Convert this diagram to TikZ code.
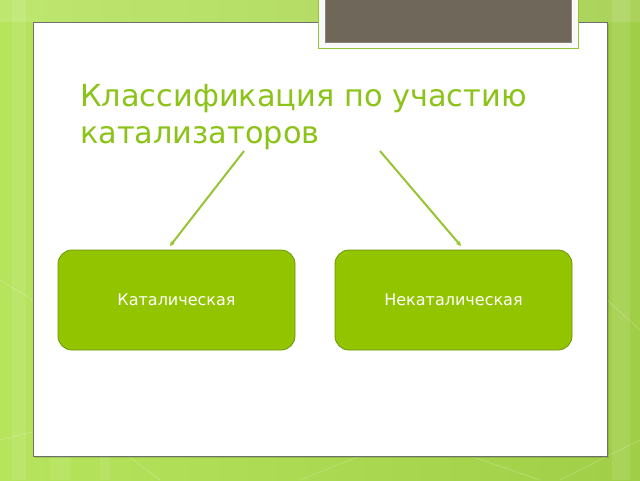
\documentclass[tikz,border=0pt]{standalone}
\usepackage{fontspec}
\setmainfont{DejaVu Sans}
\usetikzlibrary{arrows.meta}
\definecolor{bgL}{RGB}{182,228,92}
\definecolor{bgR}{RGB}{160,206,70}
\definecolor{titlegreen}{RGB}{140,195,25}
\definecolor{boxfill}{RGB}{147,196,0}
\definecolor{boxline}{RGB}{106,150,10}
\definecolor{arrowgreen}{RGB}{150,196,50}
\definecolor{darkbox}{RGB}{111,103,89}
\definecolor{panelline}{RGB}{110,110,110}
\tikzset{
  catbox/.style={draw=boxline, line width=0.8pt, fill=boxfill, rounded corners=14pt,
    minimum width=237pt, minimum height=100pt, inner sep=0pt,
    text=white, font=\fontsize{16}{19}\selectfont},
  arr/.style={draw=arrowgreen, line width=2pt, -{Stealth[length=5pt,width=5pt]}},
  faint/.style={draw=white, opacity=0.18, line width=1pt}
}
\begin{document}
\begin{tikzpicture}[x=1pt,y=-1pt]
\useasboundingbox (0,0) rectangle (640,480);
% background
\shade[left color=bgL, right color=bgR] (0,0) rectangle (640,480);
\fill[white, opacity=0.12] (0,0) rectangle (640,22);
\fill[white, opacity=0.10] (12,0) rectangle (26,480);
\fill[white, opacity=0.10] (612,0) rectangle (630,480);
\fill[white, opacity=0.08] (50,456) rectangle (70,480);
\fill[white, opacity=0.08] (100,456) rectangle (110,480);
\draw[faint] (0,440) -- (80,420) -- (160,480);
\draw[faint] (300,480) -- (360,456);
\draw[faint] (470,456) -- (540,480);
\draw[faint] (560,480) -- (640,440);
\draw[faint] (0,280) -- (33,300);
\draw[faint] (607,300) -- (640,330);
% panel shadow and panel
\fill[black, opacity=0.12] (34.5,23.5) rectangle (608.5,457.5);
\filldraw[fill=white, draw=panelline, line width=0.8pt] (33,22) rectangle (607,456);
% top dark box
\filldraw[fill=white!95!gray, draw=arrowgreen, line width=0.8pt] (318,-2) rectangle (578,48);
\filldraw[fill=darkbox, draw=darkbox!80!white, line width=0.6pt] (325,-2) rectangle (571,42);
% title
\node[anchor=base west, inner sep=0pt, text=titlegreen, align=left,
  font=\fontsize{30.4}{37}\selectfont] (title) at (80,143)
  {Классификация по участию\\катализаторов};
% boxes
\node[catbox] (b1) at (176.5,300) {Каталическая};
\node[catbox] (b2) at (453.5,300) {Некаталическая};
% arrow endpoints
\coordinate (a1s) at (244,151);
\coordinate (a1e) at (170,246);
\coordinate (a2s) at (380,151);
\coordinate (a2e) at (461,246);
\draw[arr] (a1s) -- (a1e);
\draw[arr] (a2s) -- (a2e);
\end{tikzpicture}
\end{document}
